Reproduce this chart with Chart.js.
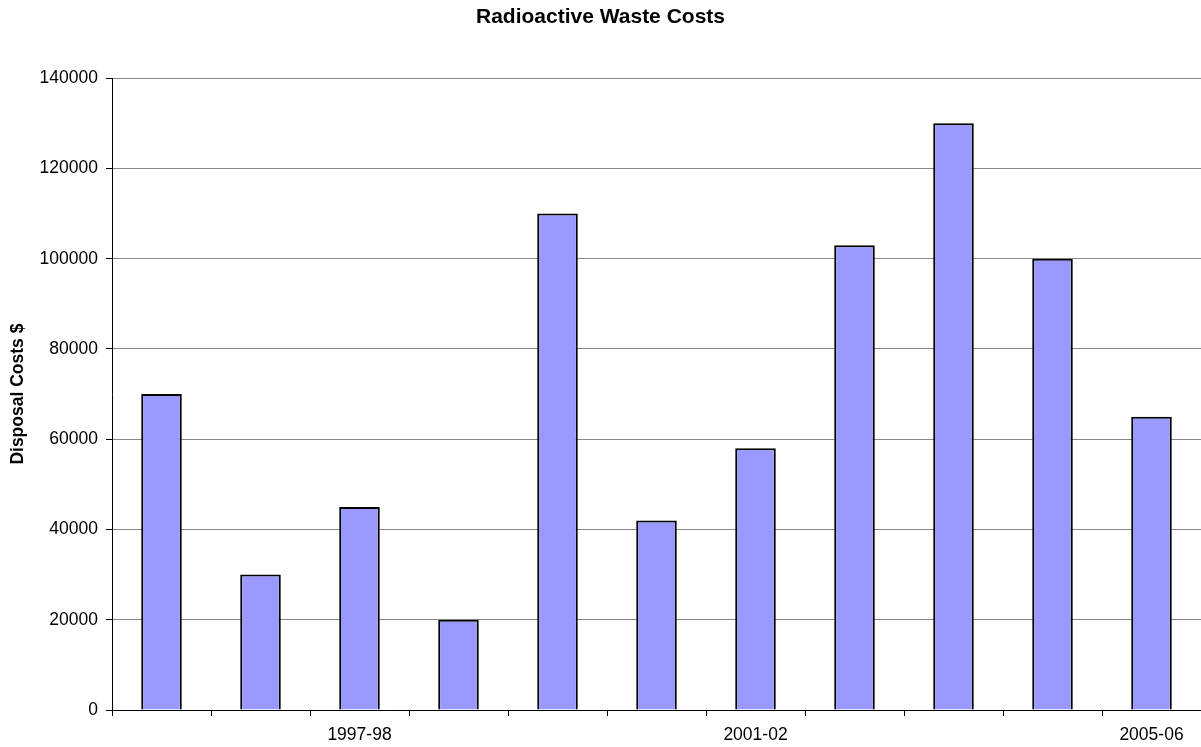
<!DOCTYPE html>
<html>
<head>
<meta charset="utf-8">
<script src="https://cdn.jsdelivr.net/npm/chart.js@4/dist/chart.umd.min.js"></script>
<style>
  html, body { margin: 0; padding: 0; background: #fff; }
  #wrap { width: 1201px; height: 747px; position: relative; }
</style>
</head>
<body>
<div id="wrap"><canvas id="chart"></canvas></div>
<script>
// ========== DATA ==========
const YEARS = ['1995-96', '1996-97', '1997-98', '1998-99', '1999-00', '2000-01',
               '2001-02', '2002-03', '2003-04', '2004-05', '2005-06'];
const DISPOSAL_COSTS = [70000, 30000, 45000, 20000, 110000, 42000, 58000, 103000, 130000, 100000, 65000];
const SHOWN_LABELS = ['1997-98', '2001-02', '2005-06'];
const Y_MAX = 140000;
const Y_STEP = 20000;

Chart.defaults.font.family = "'Liberation Sans', Arial, sans-serif";
Chart.defaults.color = '#000';

new Chart(document.getElementById('chart'), {
  type: 'bar',
  data: {
    labels: YEARS,
    datasets: [{
      data: DISPOSAL_COSTS,
      backgroundColor: '#9999ff',
      borderColor: '#000',
      borderWidth: 2,
      categoryPercentage: 1.0,
      barPercentage: 0.41,
    }]
  },
  options: {
    responsive: true,
    maintainAspectRatio: false,
    animation: false,
    layout: { padding: 0 },
    plugins: {
      legend: { display: false },
      tooltip: { enabled: false },
      title: {
        display: true,
        text: 'Radioactive Waste Costs',
        color: '#000',
        font: { size: 21, weight: 'bold' },
        padding: { top: 5, bottom: 48 },
      }
    },
    scales: {
      x: {
        grid: { offset: true, drawOnChartArea: false, drawTicks: true, tickLength: 6, tickColor: '#000' },
        border: { color: '#000', width: 1 },
        ticks: {
          autoSkip: false,
          maxRotation: 0,
          padding: 9,
          color: '#000',
          font: { size: 17.5 },
          callback: function (v) {
            const lbl = this.getLabelForValue(v);
            return SHOWN_LABELS.includes(lbl) ? lbl : '';
          }
        },
        afterFit: s => { s.height = 37; }
      },
      y: {
        min: 0,
        max: Y_MAX,
        grid: { color: '#888', tickColor: '#000', tickLength: 6 },
        border: { color: '#000', width: 1 },
        ticks: {
          stepSize: Y_STEP,
          padding: 8,
          color: '#000',
          font: { size: 17.5 },
          callback: v => String(v)
        },
        title: {
          display: true,
          text: 'Disposal Costs $',
          color: '#000',
          font: { size: 17.5, weight: 'bold' },
          padding: { top: 8, bottom: 0 }
        },
        afterFit: s => { s.width = 112; }
      }
    }
  }
});
</script>
</body>
</html>
